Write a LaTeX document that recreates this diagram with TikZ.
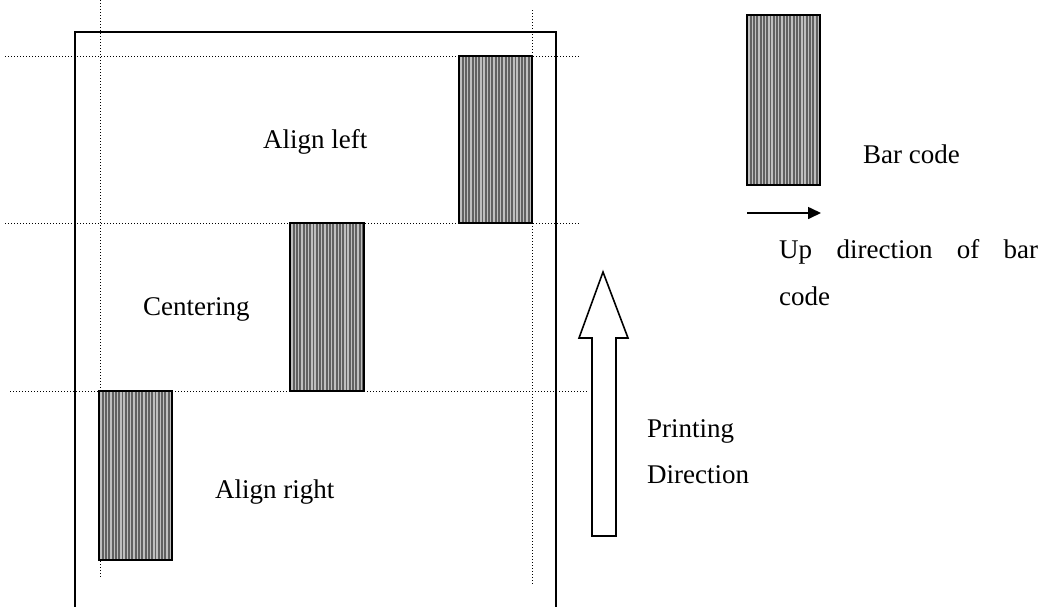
\documentclass[tikz,border=0pt]{standalone}
\usepackage{fontspec}
\setmainfont{Liberation Serif}
\usetikzlibrary{arrows.meta}
\begin{document}
\begin{tikzpicture}[x=1pt,y=-1pt,
  dotline/.style={line width=1pt, dash pattern=on 1pt off 2pt, black},
  frame/.style={line width=1.8pt},
  barcode/.style={draw, line width=1.6pt, fill=black!62, minimum width=73pt, minimum height=168pt, inner sep=0pt, outer sep=0pt,
    path picture={\foreach \i in {0,...,21}{\draw[black!25, line width=1.4pt] ([xshift=\i*3.3pt+2pt]path picture bounding box.south west) -- ([xshift=\i*3.3pt+2pt]path picture bounding box.north west);}}},
  lbl/.style={anchor=base west, inner sep=0pt, font=\fontsize{27}{32}\selectfont}
]
\useasboundingbox (0,0) rectangle (1049,606);
% outer frame
\coordinate (fbl) at (75,610);
\coordinate (ftl) at (75,32);
\coordinate (ftr) at (556,32);
\coordinate (fbr) at (556,610);
\draw[frame] (fbl) -- (ftl) -- (ftr) -- (fbr);
% dotted guide lines
\coordinate (v1a) at (100,0); \coordinate (v1b) at (100,578);
\coordinate (v2a) at (532,10); \coordinate (v2b) at (532,585);
\coordinate (h1a) at (5,56); \coordinate (h1b) at (580,56);
\coordinate (h2a) at (5,223); \coordinate (h2b) at (580,223);
\coordinate (h3a) at (10,391); \coordinate (h3b) at (587,391);
\draw[dotline] (v1a) -- (v1b);
\draw[dotline] (v2a) -- (v2b);
\draw[dotline] (h1a) -- (h1b);
\draw[dotline] (h2a) -- (h2b);
\draw[dotline] (h3a) -- (h3b);
% barcodes
\node[barcode, minimum height=167pt] (bc1) at (495.5,139.5) {};
\node[barcode, minimum width=74pt] (bc2) at (327,307) {};
\node[barcode, minimum height=169pt] (bc3) at (135.5,475.5) {};
\node[barcode, minimum height=170pt, line width=1.4pt] (bcl) at (783.5,100) {};
% labels
\node[lbl] (t1) at (263,148) {Align left};
\node[lbl] (t2) at (143,315) {Centering};
\node[lbl] (t3) at (215,498) {Align right};
\node[lbl] (t4) at (863,163) {Bar code};
\node[lbl] (t5) at (779,258) {\makebox[259pt][s]{Up direction of bar}};
\node[lbl] (t6) at (779,305) {code};
\node[lbl] (t7) at (647,437) {Printing};
\node[lbl] (t8) at (647,483) {Direction};
% legend arrow
\coordinate (la) at (747,213);
\coordinate (lb) at (821,213);
\draw[line width=1.6pt, -{Triangle[length=13pt,width=12pt]}] (la) -- (lb);
% printing direction arrow
\draw[line width=1.6pt, line join=miter] (592,536) -- (592,338) -- (579,338) -- (603,272) -- (628,338) -- (616,338) -- (616,536) -- cycle;
\end{tikzpicture}
\end{document}
